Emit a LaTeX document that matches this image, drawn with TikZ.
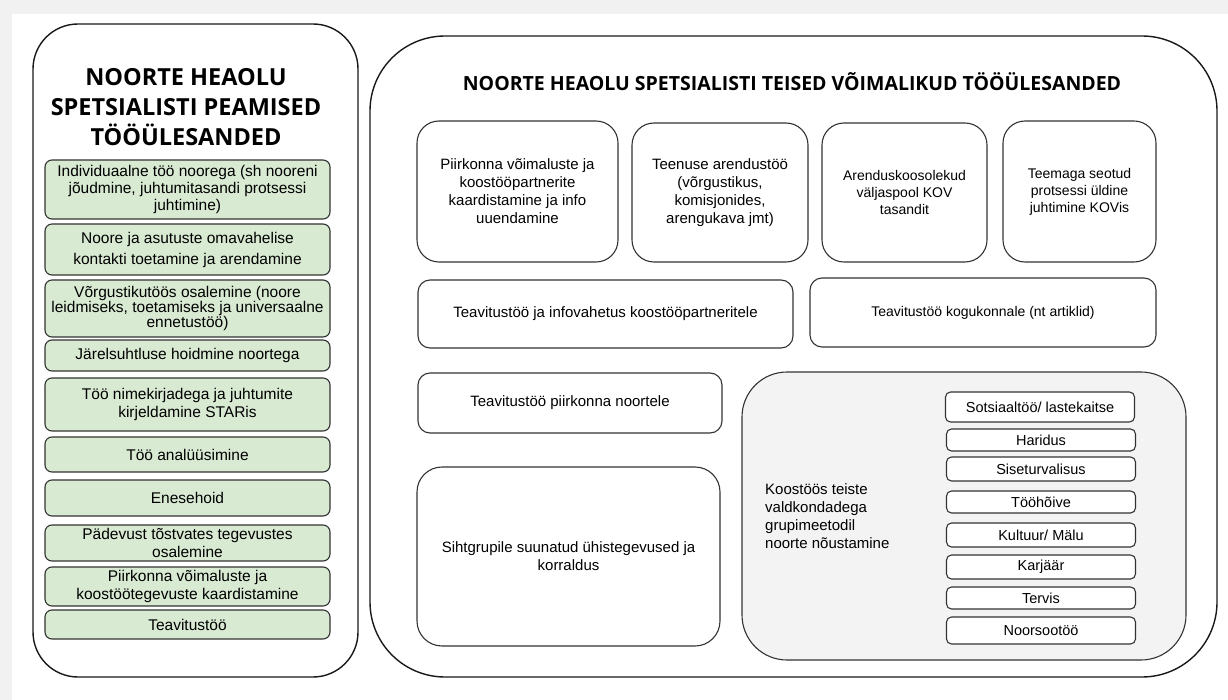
\documentclass[tikz,border=0pt]{standalone}
\usepackage{fontspec}
\setmainfont{Liberation Sans}
\newfontfamily\headfont{Open Sans}
\definecolor{paleGreen}{HTML}{D9EAD3}
\definecolor{paleGrey}{HTML}{F3F3F3}
\definecolor{bandGrey}{HTML}{F1F1F1}
\definecolor{lineGrey}{HTML}{333333}
\begin{document}
\begin{tikzpicture}[x=1pt,y=-1pt,
  every node/.style={font=\fontsize{15}{18}\selectfont, align=center, inner sep=0pt},
  panel/.style={draw=black!90, line width=1.4pt, rounded corners=#1},
  heading/.style={font=\headfont\bfseries\fontsize{#1}{30}\selectfont},
  greenbox/.style={draw=lineGrey, fill=paleGreen, line width=1.1pt, rounded corners=7pt, minimum width=285pt, font=\fontsize{15.5}{18}\selectfont},
  taskbox/.style={draw=lineGrey, fill=white, line width=1.1pt, rounded corners=#1},
  areabox/.style={draw=lineGrey, fill=white, line width=1.1pt, rounded corners=5pt, minimum width=189pt, font=\fontsize{14.5}{17}\selectfont}]
\fill[white] (0,0) rectangle (1228,700);
\fill[bandGrey] (0,0) rectangle (1228,14);
\fill[bandGrey] (0,0) rectangle (12,700);
\useasboundingbox (0,0) rectangle (1228,700);
\node[panel=45pt, minimum width=325pt, minimum height=653pt] (peamised) at (195.5,350.5) {};
\node[panel=75pt, minimum width=847pt, minimum height=641pt] (teised) at (793.5,356.5) {};
\node[heading=23.5] (peamisedTitle) at (186,107) {NOORTE HEAOLU\\ SPETSIALISTI PEAMISED\\ TÖÖÜLESANDED};
\node[heading=19.5] (teisedTitle) at (792,82) {NOORTE HEAOLU SPETSIALISTI TEISED VÕIMALIKUD TÖÖÜLESANDED};
\node[greenbox, minimum height=59pt, font=\fontsize{15.5}{17}\selectfont] (individuaalne) at (187.5,189.5) {Individuaalne töö noorega (sh nooreni\\ jõudmine, juhtumitasandi protsessi\\ juhtimine)};
\node[greenbox, minimum height=51pt, font=\fontsize{15.5}{21}\selectfont] (kontakt) at (187.5,249.5) {Noore ja asutuste omavahelise\\ kontakti toetamine ja arendamine};
\node[greenbox, minimum height=57pt, font=\fontsize{15.5}{15}\selectfont] (vorgustik) at (187.5,308.5) {Võrgustikutöös osalemine (noore\\ leidmiseks, toetamiseks ja universaalne\\ ennetustöö)};
\node[greenbox, minimum height=31pt] (jarelsuhtlus) at (187.5,355.5) {Järelsuhtluse hoidmine noortega};
\node[greenbox, minimum height=53pt] (nimekirjad) at (187.5,404.5) {Töö nimekirjadega ja juhtumite\\ kirjeldamine STARis};
\node[greenbox, minimum height=35pt] (analuus) at (187.5,454.5) {Töö analüüsimine};
\node[greenbox, minimum height=36pt] (enesehoid) at (187.5,498) {Enesehoid};
\node[greenbox, minimum height=36pt] (padevus) at (187.5,543) {Pädevust tõstvates tegevustes\\ osalemine};
\node[greenbox, minimum height=39pt] (piirkond) at (187.5,586.5) {Piirkonna võimaluste ja\\ koostöötegevuste kaardistamine};
\node[greenbox, minimum height=29pt] (teavitus) at (187.5,624.5) {Teavitustöö};
\node[taskbox=22pt, minimum width=201pt, minimum height=141pt] (kaardistamine) at (517.5,191.5) {Piirkonna võimaluste ja\\ koostööpartnerite\\ kaardistamine ja info\\ uuendamine};
\node[taskbox=22pt, minimum width=176pt, minimum height=139pt] (arendus) at (720,192.5) {Teenuse arendustöö\\ (võrgustikus,\\ komisjonides,\\ arengukava jmt)};
\node[taskbox=22pt, minimum width=165pt, minimum height=139pt, font=\fontsize{14}{17}\selectfont] (koosolekud) at (904.5,192.5) {Arenduskoosolekud\\ väljaspool KOV\\ tasandit};
\node[taskbox=22pt, minimum width=153pt, minimum height=141pt, font=\fontsize{14}{17}\selectfont] (juhtimine) at (1079.5,191.5) {Teemaga seotud\\ protsessi üldine\\ juhtimine KOVis};
\node[taskbox=12pt, minimum width=375pt, minimum height=68pt] (infovahetus) at (605.5,314) {Teavitustöö ja infovahetus koostööpartneritele};
\node[taskbox=12pt, minimum width=346pt, minimum height=69pt, font=\fontsize{14}{17}\selectfont] (kogukond) at (983,312.5) {Teavitustöö kogukonnale (nt artiklid)};
\node[taskbox=12pt, minimum width=304pt, minimum height=60pt] (noortele) at (570,403) {Teavitustöö piirkonna noortele};
\node[taskbox=25pt, minimum width=303pt, minimum height=179pt] (uhistegevused) at (568.5,556.5) {Sihtgrupile suunatud ühistegevused ja\\ korraldus};
\node[draw=lineGrey, fill=paleGrey, line width=1.1pt, rounded corners=45pt, minimum width=444pt, minimum height=288pt] (koostoo) at (964,516) {};
\node[anchor=west, align=left] (koostooText) at (765,516) {Koostöös teiste\\ valdkondadega\\ grupimeetodil\\ noorte nõustamine};
\node[areabox, minimum height=30pt] (sotsiaal) at (1040,407) {Sotsiaaltöö/ lastekaitse};
\node[areabox, minimum height=22pt] (haridus) at (1041,440) {Haridus};
\node[areabox, minimum height=24pt] (siseturvalisus) at (1041,469) {Siseturvalisus};
\node[areabox, minimum height=22pt] (toohoive) at (1041,502) {Tööhõive};
\node[areabox, minimum height=24pt] (kultuur) at (1041,535) {Kultuur/ Mälu};
\node[areabox, minimum height=24pt] (karjaar) at (1041,567) {Karjäär};
\node[areabox, minimum height=22pt] (tervis) at (1041,598) {Tervis};
\node[areabox, minimum height=27pt] (noorsootoo) at (1041,630.5) {Noorsootöö};
\end{tikzpicture}
\end{document}
